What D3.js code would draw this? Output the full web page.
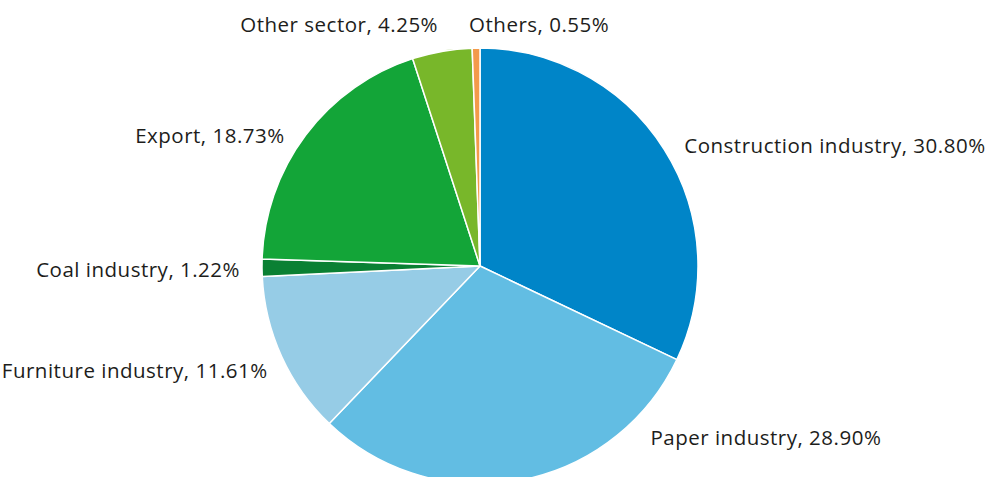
<!DOCTYPE html>
<html><head><meta charset="utf-8">
<script src="https://cdn.jsdelivr.net/npm/d3@7"></script>
<style>
html,body{margin:0;padding:0;background:#fff;}
svg{display:block;}
text{font-family:"Open Sans",sans-serif;font-size:20.5px;letter-spacing:0.5px;fill:#1d1d1b;}
</style></head>
<body>
<svg id="chart" width="992" height="477"></svg>
<script>
const categories = ["Construction industry","Paper industry","Furniture industry","Coal industry","Export","Other sector","Others"];
const shares = [30.80, 28.90, 11.61, 1.22, 18.73, 4.25, 0.55];
const valueLabels = ["30.80%","28.90%","11.61%","1.22%","18.73%","4.25%","0.55%"];

// styling / layout (kept separate from data)
const colors = ["#0085c8","#62bde3","#96cce6","#0a8033","#13a538","#78b72a","#f39a4b"];
const labelNudge = [[20,-5,"start"],[131,-43,"start"],[-14,14,"end"],[-22,1,"end"],[-21,0,"end"],[-4,-27,"end"],[-7,-24,"start"]];

const svg = d3.select("#chart");
const cx = 480, cy = 266, r = 218;
const g = svg.append("g").attr("transform",`translate(${cx},${cy})`);
const data = categories.map((c,i)=>({name:c,value:shares[i],label:valueLabels[i],i}));
const pie = d3.pie().value(d=>d.value).sort(null);
const arc = d3.arc().innerRadius(0).outerRadius(r);
const arcs = pie(data);
g.selectAll("path").data(arcs).join("path")
  .attr("d",arc).attr("fill",d=>colors[d.data.i])
  .attr("stroke","#fff").attr("stroke-width",1.5).attr("stroke-linejoin","round");
g.selectAll("text").data(arcs).join("text")
  .attr("x",d=>{const a=(d.startAngle+d.endAngle)/2;return r*Math.sin(a)+labelNudge[d.data.i][0];})
  .attr("y",d=>{const a=(d.startAngle+d.endAngle)/2;return -r*Math.cos(a)+labelNudge[d.data.i][1];})
  .attr("dominant-baseline","central")
  .attr("text-anchor",d=>labelNudge[d.data.i][2])
  .text(d=>`${d.data.name}, ${d.data.label}`);
</script>
</body></html>
